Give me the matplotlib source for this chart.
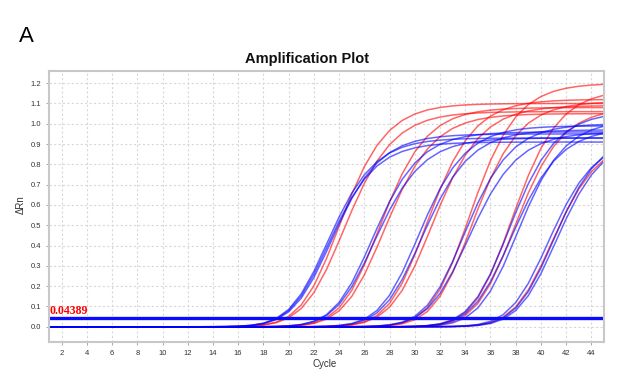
import numpy as np
import matplotlib
matplotlib.use("Agg")
import matplotlib.pyplot as plt

plt.rcParams['font.family'] = ['Liberation Sans', 'DejaVu Sans']

# cycles measured
cycles = np.arange(1, 46)

threshold = 0.04389

# per curve: threshold cycle (Ct), plateau dRn, spread
blue_ct = [19.1, 19.2, 19.3, 22.6, 22.7, 26.2, 26.4, 29.8, 30.0, 33.3, 33.5, 34.0, 36.6, 37.0, 37.2]
blue_plateau = [0.93, 0.91, 0.95, 0.96, 0.93, 0.99, 0.97, 1.00, 0.96, 1.06, 0.98, 1.02, 0.93, 0.96, 0.94]
blue_spread = [2.0, 2.0, 2.05, 2.0, 2.05, 2.0, 2.05, 2.0, 2.1, 2.0, 2.05, 2.0, 2.0, 2.0, 2.0]

red_ct = [19.8, 20.0, 23.0, 23.2, 26.7, 26.9, 30.0, 30.3, 33.4, 33.7, 36.9]
red_plateau = [1.10, 1.06, 1.08, 1.05, 1.12, 1.09, 1.20, 1.11, 1.17, 1.08, 0.93]
red_spread = [2.0, 2.1, 2.0, 2.1, 2.0, 2.1, 2.0, 2.0, 2.0, 2.0, 2.0]

x_ticks = list(range(2, 45, 2))
y_ticks = [0.0, 0.1, 0.2, 0.3, 0.4, 0.5, 0.6, 0.7, 0.8, 0.9, 1.0, 1.1, 1.2]


def amp_curve(c, ct, plateau, spread):
    # asymmetric sigmoid (Richards, shape 2) that passes the threshold at ct
    z_th = -np.log((threshold / plateau) ** -0.5 - 1)
    mid = ct - spread * z_th
    return plateau * (1 + np.exp(-(c - mid) / spread)) ** -2


fig = plt.figure(figsize=(6.34, 3.91), dpi=100)
ax = fig.add_axes([0.0773, 0.1253, 0.8754, 0.6931])

for ct, p, s in zip(red_ct, red_plateau, red_spread):
    ax.plot(cycles, amp_curve(cycles, ct, p, s), color="#ff0000", alpha=0.6, lw=1.1)
for ct, p, s in zip(blue_ct, blue_plateau, blue_spread):
    ax.plot(cycles, amp_curve(cycles, ct, p, s), color="#0000ff", alpha=0.6, lw=1.1)

ax.axhline(threshold, color="#0a0aff", lw=2.4)
ax.text(1.05, threshold + 0.004, "0.04389", color="#ff0000", fontsize=8.5,
        fontweight="bold", family=["Liberation Serif", "DejaVu Serif"], va="bottom", ha="left")

ax.set_xlim(1, 45)
ax.set_ylim(-0.075, 1.26)
ax.set_xticks(x_ticks)
ax.set_yticks(y_ticks)
ax.set_yticklabels([f"{v:.1f}" for v in y_ticks])
ax.grid(True, color="#d8d8d8", linestyle=(0, (2, 2)), lw=0.8)
ax.tick_params(labelsize=5.5, labelcolor="#333333", color="#999999", length=2, width=0.6)
for sp in ax.spines.values():
    sp.set_color("#c8c8c8")
    sp.set_linewidth(1.5)

fig.text(307 / 634, 1 - 59 / 391, "Amplification Plot", ha="center", va="center",
         fontsize=10.5, fontweight="bold", color="#111111")
fig.text(26 / 634, 1 - 36 / 391, "A", ha="center", va="center", fontsize=16, color="#000000")
fig.text(325 / 634, 1 - 364 / 391, "Cycle", ha="center", va="center", fontsize=7, color="#333333")
fig.text(21 / 634, 1 - 205 / 391, "ΔRn", ha="center", va="center", rotation=90,
         fontsize=7, color="#333333")

fig.savefig("out.png", dpi=100, facecolor="white")
